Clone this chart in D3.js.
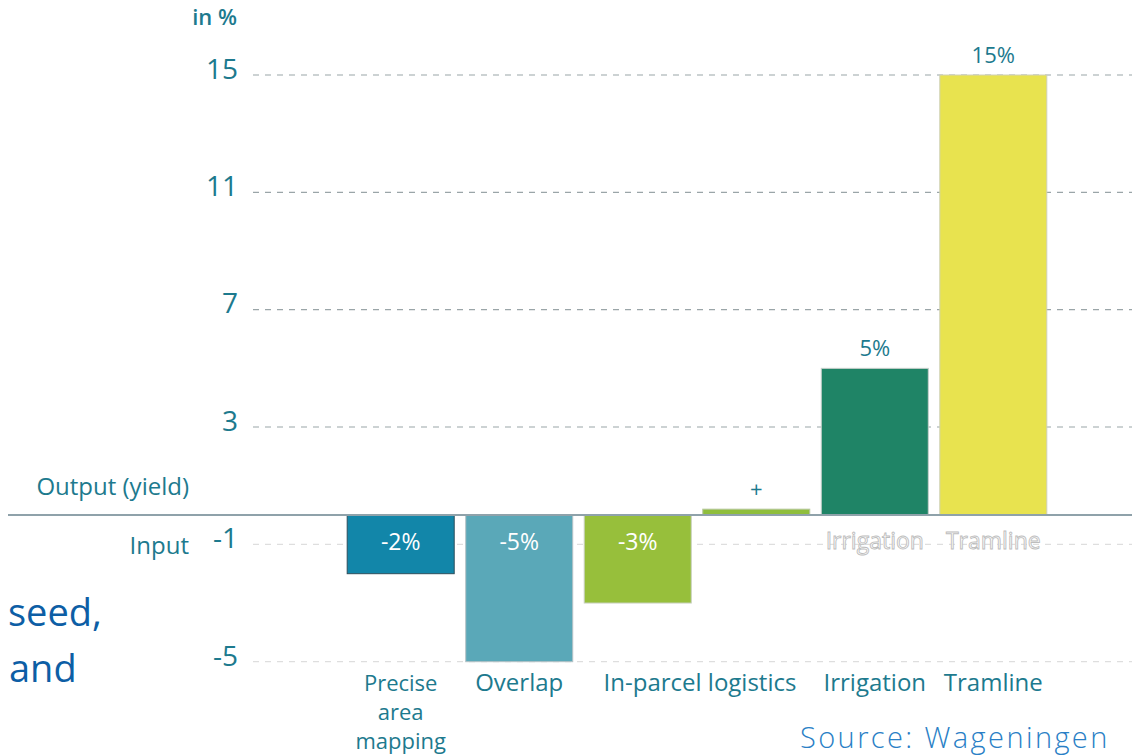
<!DOCTYPE html>
<html>
<head>
<meta charset="utf-8">
<script src="https://cdn.jsdelivr.net/npm/d3@7"></script>
<style>
  body { margin: 0; background: #fff; }
  svg { display: block; font-family: "Open Sans", "Noto Sans", sans-serif; }
</style>
</head>
<body>
<svg width="1132" height="755"></svg>
<script>
// categories and values
const categories = ["Precise area mapping", "Overlap", "In-parcel logistics", "In-parcel extra", "Irrigation", "Tramline"];
const values = [-2, -5, -3, 0.2, 5, 15];
const valueLabels = ["-2%", "-5%", "-3%", "+", "5%", "15%"];
const barColors = ["#1286a9", "#5aa8b8", "#97bf3b", "#8fbe3c", "#1f8466", "#e8e34f"];
const barStrokes = ["#2d4f5c", "#b5c2c6", "#c8d0c0", "#b8c8a0", "#c8d0cc", "#cfd0b8"];
const tickValues = [15, 11, 7, 3, -1, -5];
const tickLabels = ["15", "11", "7", "3", "-1", "-5"];
const axisLabels = [
    {cat: "Precise area mapping", lines: ["Precise", "area", "mapping"]},
    {cat: "Overlap", lines: ["Overlap"]},
    {cat: "In-parcel logistics", lines: ["In-parcel logistics"], span: "In-parcel extra"},
    {cat: "Irrigation", lines: ["Irrigation"]},
    {cat: "Tramline", lines: ["Tramline"]}
];
const ghostLabels = ["Irrigation", "Tramline"];

const svg = d3.select("svg");
const teal = "#1d7a8e";

const y = d3.scaleLinear().domain([-5, 15]).range([661.7, 75]);
const x = d3.scaleBand().domain(categories)
    .range([341.5, 1052.5])
    .paddingInner(0.097)
    .paddingOuter(0.048);

// gridlines
const grid = svg.append("g");
grid.selectAll("line")
    .data(tickValues)
    .enter().append("line")
    .attr("x1", 253).attr("x2", 1132)
    .attr("y1", d => y(d)).attr("y2", d => y(d))
    .attr("stroke", d => d < 0 ? "#dedede" : "#9aa5a8")
    .attr("stroke-width", 1.2)
    .attr("stroke-dasharray", "6,6");

// tick labels
svg.append("g").selectAll("text")
    .data(tickValues)
    .enter().append("text")
    .attr("x", 238)
    .attr("y", d => y(d) - 6)
    .attr("dy", "0.35em")
    .attr("text-anchor", "end")
    .attr("fill", teal)
    .style("font-size", "28px")
    .text((d, i) => tickLabels[i]);

svg.append("text").attr("x", 237).attr("y", 25).attr("text-anchor", "end")
    .attr("fill", teal).style("font-size", "22px").style("font-weight", 600).text("in %");

// ghost labels behind bars
svg.append("g").selectAll("text")
    .data(ghostLabels)
    .enter().append("text")
    .attr("x", d => x(d) + x.bandwidth() / 2)
    .attr("y", 549)
    .attr("text-anchor", "middle")
    .attr("fill", "#fff")
    .attr("stroke", "#bdbdbd")
    .attr("stroke-width", 0.9)
    .style("font-size", "23px")
    .text(d => d);

// bars
svg.append("g").selectAll("rect")
    .data(categories)
    .enter().append("rect")
    .attr("x", d => x(d))
    .attr("width", x.bandwidth())
    .attr("y", (d, i) => y(Math.max(0, values[i])))
    .attr("height", (d, i) => Math.abs(y(values[i]) - y(0)))
    .attr("fill", (d, i) => barColors[i])
    .attr("stroke", (d, i) => barStrokes[i])
    .attr("stroke-width", 1);

// zero line
svg.append("line")
    .attr("x1", 8).attr("x2", 1132)
    .attr("y1", y(0)).attr("y2", y(0))
    .attr("stroke", "#8fa2aa").attr("stroke-width", 2);

// value labels
svg.append("g").selectAll("text")
    .data(categories)
    .enter().append("text")
    .attr("x", d => x(d) + x.bandwidth() / 2)
    .attr("y", (d, i) => values[i] < 0 ? 550 : y(values[i]) - 12)
    .attr("text-anchor", "middle")
    .attr("fill", (d, i) => values[i] < 0 ? "#fff" : teal)
    .style("font-size", (d, i) => values[i] < 0 ? "23px" : "22px")
    .text((d, i) => valueLabels[i]);

// category labels
const catG = svg.append("g");
axisLabels.forEach(l => {
    let cx = x(l.cat) + x.bandwidth() / 2;
    if (l.span) cx = (cx + x(l.span) + x.bandwidth() / 2) / 2 + 3;
    const t = catG.append("text")
        .attr("text-anchor", "middle")
        .attr("fill", teal)
        .style("font-size", l.lines.length > 1 ? "22px" : "24px");
    l.lines.forEach((s, k) => {
        t.append("tspan").attr("x", cx).attr("y", 691 + k * 29).text(s);
    });
});

// side labels
svg.append("text").attr("x", 189).attr("y", 495).attr("text-anchor", "end")
    .attr("fill", teal).style("font-size", "24px").text("Output (yield)");
svg.append("text").attr("x", 189).attr("y", 554).attr("text-anchor", "end")
    .attr("fill", teal).style("font-size", "24px").text("Input");

svg.append("text").attr("x", 8).attr("y", 626)
    .attr("fill", "#0d5ea5").style("font-size", "38px").text("seed,");
svg.append("text").attr("x", 9).attr("y", 682)
    .attr("fill", "#0d5ea5").style("font-size", "38px").text("and");

svg.append("text").attr("x", 800).attr("y", 748)
    .attr("fill", "#2a7fc6").style("font-size", "29px").style("font-weight", 300)
    .style("letter-spacing", "2.4px").text("Source:  Wageningen");
</script>
</body>
</html>
